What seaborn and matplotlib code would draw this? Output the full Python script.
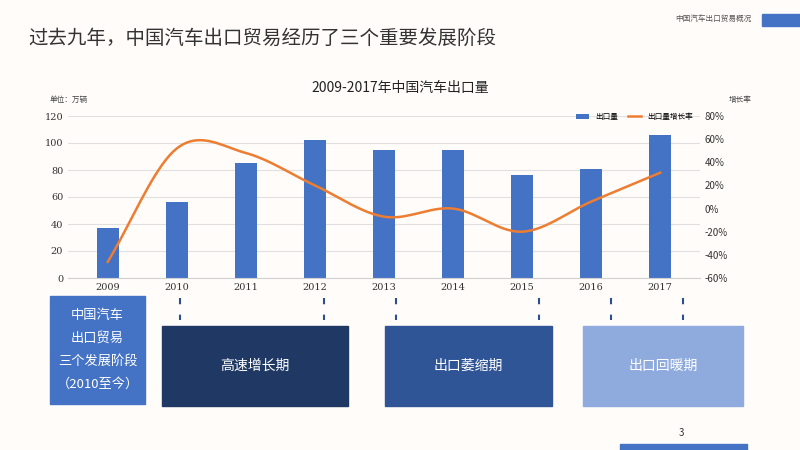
import numpy as np
import pandas as pd
import matplotlib.pyplot as plt
import seaborn as sns
from matplotlib.patches import Rectangle

plt.rcParams["font.family"] = ["Noto Sans CJK SC", "DejaVu Sans"]

YEARS = ["2009", "2010", "2011", "2012", "2013", "2014", "2015", "2016", "2017"]
EXPORTS = [37, 56, 85, 102, 95, 95, 76, 81, 106]
GROWTH = [-46, 52, 48, 20, -7, 0, -20, 6, 31]

BLUE = "#4472C4"
ORANGE = "#ED7D31"


def smooth(x, y, steps=20):
    # Catmull-Rom curve through the data points, like Excel's smoothed line
    x = np.asarray(x, float)
    y = np.asarray(y, float)
    px = np.concatenate([[2 * x[0] - x[1]], x, [2 * x[-1] - x[-2]]])
    py = np.concatenate([[2 * y[0] - y[1]], y, [2 * y[-1] - y[-2]]])
    xs, ys = [], []
    t = np.linspace(0, 1, steps)
    for i in range(1, len(px) - 2):
        for p, out in ((px, xs), (py, ys)):
            p0, p1, p2, p3 = p[i - 1], p[i], p[i + 1], p[i + 2]
            out.extend(0.5 * (2 * p1 + (-p0 + p2) * t + (2 * p0 - 5 * p1 + 4 * p2 - p3) * t ** 2
                              + (-p0 + 3 * p1 - 3 * p2 + p3) * t ** 3))
    return np.array(xs), np.array(ys)


fig = plt.figure(figsize=(8, 4.5), dpi=100)
fig.patch.set_facecolor("#FFFCFA")

W, H = 800, 450


def fx(px):
    return px / W


def fy(py):
    return 1 - py / H


fig.text(fx(28), fy(38), "过去九年，中国汽车出口贸易经历了三个重要发展阶段", fontsize=14, color="#333333", va="center")
fig.text(fx(752), fy(20), "中国汽车出口贸易概况", fontsize=5.5, color="#555555", ha="right", va="center")
fig.patches.append(Rectangle((fx(762), fy(26)), fx(38), 12 / H, color=BLUE, transform=fig.transFigure))
fig.text(fx(400), fy(88), "2009-2017年中国汽车出口量", fontsize=10, color="#222222", ha="center", va="center")

ax = fig.add_axes([fx(68), fy(278), fx(700 - 68), (278 - 116) / H])
ax.set_facecolor("none")
df = pd.DataFrame({"year": YEARS, "exports": EXPORTS, "growth": GROWTH})
sns.barplot(data=df, x="year", y="exports", color=BLUE, width=0.32, ax=ax, label="出口量", saturation=1)
if ax.get_legend():
    ax.get_legend().remove()
ax.set_ylim(0, 120)
ax.set_yticks(range(0, 121, 20))
ax.set_xlabel("")
ax.set_ylabel("")
ax.grid(axis="y", color="#E0E0E0", linewidth=0.8)
ax.set_axisbelow(True)
for s in ax.spines.values():
    s.set_visible(False)
ax.spines["bottom"].set_visible(True)
ax.spines["bottom"].set_color("#D0D0D0")
ax.tick_params(length=0, labelsize=7, colors="#333333")
for lab in ax.get_xticklabels() + ax.get_yticklabels():
    lab.set_fontfamily("DejaVu Serif")

ax2 = ax.twinx()
sx, sy = smooth(range(len(YEARS)), GROWTH)
ax2.plot(sx, sy, color=ORANGE, linewidth=1.8, label="出口量增长率")
ax2.set_ylim(-60, 80)
ax2.set_yticks(range(-60, 81, 20))
ax2.set_yticklabels([f"{v}%" for v in range(-60, 81, 20)])
for s in ax2.spines.values():
    s.set_visible(False)
ax2.tick_params(length=0, labelsize=7, colors="#333333")

fig.text(fx(50), fy(100), "单位：万辆", fontsize=5.5, color="#444444", va="center")
fig.text(fx(740), fy(100), "增长率", fontsize=5.5, color="#444444", ha="center", va="center")
h1, l1 = ax.get_legend_handles_labels()
h2, l2 = ax2.get_legend_handles_labels()
ax2.legend(h1 + h2, l1 + l2, loc="upper right", bbox_to_anchor=(1.0, 1.06), ncol=2, fontsize=5.5,
           frameon=False, handlelength=1.8, columnspacing=1.2)

# dashed markers below some years
xpix = np.linspace(108, 683, len(YEARS))
for i in [1, 3, 4, 6, 7, 8]:
    fig.add_artist(plt.Line2D([fx(xpix[i])] * 2, [fy(298), fy(320)], color="#2E4F8F",
                              linewidth=1.5, linestyle=(0, (3, 5)), transform=fig.transFigure))

boxes = [
    (50, 296, 95, 108, BLUE, "中国汽车\n出口贸易\n三个发展阶段\n（2010至今）", 9.5),
    (162, 326, 186, 80, "#1F3864", "高速增长期", 10),
    (385, 326, 167, 80, "#2F5597", "出口萎缩期", 10),
    (583, 326, 160, 80, "#8FAADC", "出口回暖期", 10),
]
for x, y, w, h, c, txt, fs in boxes:
    fig.patches.append(Rectangle((fx(x), fy(y + h)), w / W, h / H, color=c, transform=fig.transFigure))
    fig.text(fx(x + w / 2), fy(y + h / 2), txt, color="white", fontsize=fs, ha="center", va="center",
             linespacing=2.0)

fig.text(fx(681), fy(433), "3", fontsize=7, color="#333333", ha="center", va="center")
fig.patches.append(Rectangle((fx(620), 0), fx(127), 6 / H, color=BLUE, transform=fig.transFigure))

fig.savefig("out.png", dpi=100, facecolor=fig.get_facecolor())
